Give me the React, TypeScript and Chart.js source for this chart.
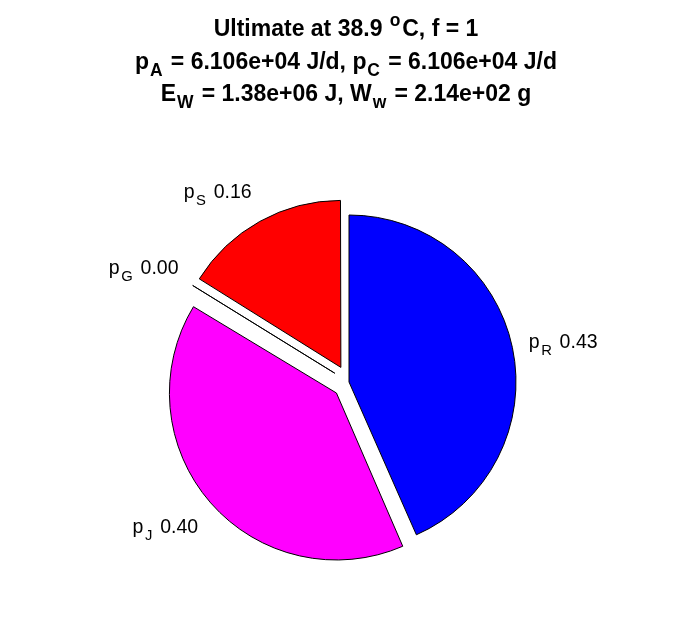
import React, { useEffect, useRef } from 'react';
import { Chart, registerables } from 'chart.js';

Chart.register(...registerables);

// ---- data ----
const SLICE_NAMES = ['R', 'J', 'G', 'S'];
const SLICE_VALUES = [0.43, 0.40, 0.001, 0.16];
const SLICE_LABELS = ['0.43', '0.40', '0.00', '0.16'];
const SLICE_COLORS = ['#0000ff', '#ff00ff', '#00ff00', '#ff0000'];
const EXPLODE = [0, 1, 1, 1];

type Seg = [string, 'n' | 'sub' | 'sup'];
const TITLE_LINE_1: Seg[] = [['Ultimate at 38.9 ', 'n'], ['o', 'sup'], ['C, f = 1', 'n']];
const TITLE_LINE_2: Seg[] = [['p', 'n'], ['A', 'sub'], [' = 6.106e+04 J/d, p', 'n'], ['C', 'sub'], [' = 6.106e+04 J/d', 'n']];
const TITLE_LINE_3: Seg[] = [['E', 'n'], ['W', 'sub'], [' = 1.38e+06 J, W', 'n'], ['w', 'sub'], [' = 2.14e+02 g', 'n']];

// ---- style ----
const W = 696;
const H = 618;
const RADIUS = 167;
const FONT = '"Liberation Sans", Arial, Helvetica, sans-serif';
const TITLE_SIZE = 23;
const LABEL_SIZE = 19.5;
const SUB_SCALE = 0.76;

type Style = { size: number; weight: string; pre: number; post: number; subDrop: number };
const TITLE_STYLE: Style = { size: TITLE_SIZE, weight: 'bold', pre: 0.04, post: 0.08, subDrop: 0.32 };
const LABEL_STYLE: Style = { size: LABEL_SIZE, weight: 'normal', pre: 0.08, post: 0.12, subDrop: 0.36 };

function segFont(kind: string, st: Style) {
  const s = kind === 'n' ? st.size : st.size * SUB_SCALE;
  return `${st.weight} ${s}px ${FONT}`;
}

function segWidth(ctx: CanvasRenderingContext2D, seg: Seg, st: Style) {
  ctx.font = segFont(seg[1], st);
  const extra = seg[1] === 'n' ? 0 : st.size * (st.pre + st.post);
  return ctx.measureText(seg[0]).width + extra;
}

function richWidth(ctx: CanvasRenderingContext2D, segs: Seg[], st: Style) {
  return segs.reduce((a, s) => a + segWidth(ctx, s, st), 0);
}

function drawRich(ctx: CanvasRenderingContext2D, segs: Seg[], x: number, y: number, st: Style) {
  let cx = x;
  for (const seg of segs) {
    ctx.font = segFont(seg[1], st);
    const dy = seg[1] === 'sub' ? st.size * st.subDrop : seg[1] === 'sup' ? -st.size * 0.45 : 0;
    const dx = seg[1] === 'n' ? 0 : st.size * st.pre;
    ctx.fillText(seg[0], cx + dx, y + dy);
    cx += segWidth(ctx, seg, st);
  }
}

const annotations = {
  id: 'annotations',
  afterDatasetUpdate(chart: any) {
    const meta = chart.getDatasetMeta(0);
    meta.data.forEach((arc: any, i: number) => {
      const d = EXPLODE[i] ? 0.1 * RADIUS : 0;
      const fix = 1 - Math.sin(Math.min(Math.PI, arc.circumference || 0));
      arc.outerRadius = RADIUS - d * fix;
    });
  },
  afterDraw(chart: any) {
    const ctx: CanvasRenderingContext2D = chart.ctx;
    ctx.save();
    ctx.fillStyle = '#000';
    ctx.textBaseline = 'alphabetic';
    ctx.textAlign = 'left';
    const titleX = 346;
    const lines = [TITLE_LINE_1, TITLE_LINE_2, TITLE_LINE_3];
    const baselines = [36, 69, 101];
    lines.forEach((segs, i) => {
      const w = richWidth(ctx, segs, TITLE_STYLE);
      drawRich(ctx, segs, titleX - w / 2, baselines[i], TITLE_STYLE);
    });

    const meta = chart.getDatasetMeta(0);
    meta.data.forEach((arc: any, i: number) => {
      const mid = (arc.startAngle + arc.endAngle) / 2;
      const ux = Math.cos(mid);
      const uy = Math.sin(mid);
      const d = EXPLODE[i] ? 0.1 * RADIUS : 0;
      const ax = arc.x + (d + 1.1 * RADIUS) * ux;
      const ay = arc.y + (d + 1.1 * RADIUS) * uy;
      const segs: Seg[] = [['p', 'n'], [SLICE_NAMES[i], 'sub'], [' ' + SLICE_LABELS[i], 'n']];
      const w = richWidth(ctx, segs, LABEL_STYLE);
      const left = ux >= 0 ? ax : ax - w;
      const base = ay + 0.37 * LABEL_SIZE + 0.95 * LABEL_SIZE * uy;
      drawRich(ctx, segs, left, base, LABEL_STYLE);
    });
    ctx.restore();
  },
};

export default function App() {
  const ref = useRef<HTMLCanvasElement | null>(null);
  useEffect(() => {
    if (!ref.current) return;
    const chart = new Chart(ref.current, {
      type: 'pie',
      data: {
        labels: SLICE_NAMES.map((n) => 'p' + n),
        datasets: [
          {
            data: SLICE_VALUES,
            backgroundColor: SLICE_COLORS,
            borderColor: '#000000',
            borderWidth: 1,
            offset: EXPLODE.map((e) => e * 0.1 * RADIUS * 4),
            hoverOffset: 0,
          } as any,
        ],
      },
      options: {
        responsive: false,
        animation: false,
        radius: RADIUS,
        rotation: 0,
        layout: { padding: { left: 2, right: 0, top: 146, bottom: 0 } },
        plugins: {
          legend: { display: false },
          tooltip: { enabled: false },
          title: { display: false },
        },
        events: [],
      } as any,
      plugins: [annotations],
    });
    return () => chart.destroy();
  }, []);
  return (
    <div style={{ position: 'absolute', left: 0, top: 0, width: W, height: H, background: '#fff' }}>
      <canvas ref={ref} width={W} height={H} style={{ width: W, height: H, display: 'block' }} />
    </div>
  );
}
